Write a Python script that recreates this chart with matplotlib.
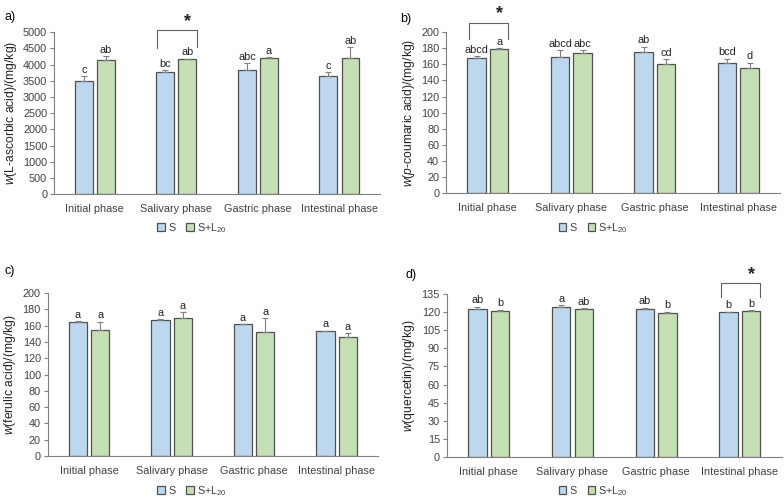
import numpy as np
import matplotlib
matplotlib.use("Agg")
import matplotlib.pyplot as plt

plt.rcParams['font.family'] = ['Liberation Sans', 'DejaVu Sans']
plt.rcParams['mathtext.fontset'] = 'custom'
plt.rcParams['mathtext.rm'] = 'Liberation Sans'
plt.rcParams['mathtext.it'] = 'Liberation Sans:italic'

phases = ['Initial phase', 'Salivary phase', 'Gastric phase', 'Intestinal phase']
series_names = ['S', 'S+L$_{20}$']

# a) L-ascorbic acid
asc_s = [3500, 3780, 3830, 3640]
asc_s_err = [150, 40, 220, 120]
asc_l = [4130, 4170, 4210, 4190]
asc_l_err = [120, 8, 12, 340]
asc_s_let = ['c', 'bc', 'abc', 'c']
asc_l_let = ['ab', 'ab', 'a', 'ab']

# b) p-coumaric acid
cou_s = [168, 169, 175.5, 162]
cou_s_err = [2, 9, 6.5, 5]
cou_l = [179, 174, 161, 155]
cou_l_err = [1, 3.5, 5.5, 7]
cou_s_let = ['abcd', 'abcd', 'ab', 'bcd']
cou_l_let = ['a', 'abc', 'cd', 'd']

# c) ferulic acid
fer_s = [165, 167, 161.5, 153]
fer_s_err = [0.8, 0.6, 0.6, 0.6]
fer_l = [154.5, 169, 152, 145.5]
fer_l_err = [10.5, 7.5, 17, 5]
fer_s_let = ['a', 'a', 'a', 'a']
fer_l_let = ['a', 'a', 'a', 'a']

# d) quercetin
que_s = [122.5, 124.5, 122.5, 120]
que_s_err = [2, 1, 1, 0.3]
que_l = [121, 122.5, 119.5, 121]
que_l_err = [1, 0.5, 1, 0.5]
que_s_let = ['ab', 'a', 'ab', 'b']
que_l_let = ['b', 'ab', 'b', 'b']

blue = '#BDD7EE'
green = '#C5E0B4'
edge = '#505050'

fig = plt.figure(figsize=(7.84, 5.03), dpi=100)

panels = [
    dict(rect=[0.069, 0.614, 0.416, 0.322], s=asc_s, se=asc_s_err, l=asc_l, le=asc_l_err,
         sl=asc_s_let, ll=asc_l_let, ymax=5000, step=500,
         ylabel='$\\mathit{w}$(L-ascorbic acid)/(mg/kg)', tag='a)', tagpos=(0.006, 0.978),
         leg_y=0.547, leg_x=0.245, br=(0.76, 1.25, 4500, 4540, 5060)),
    dict(rect=[0.569, 0.616, 0.426, 0.320], s=cou_s, se=cou_s_err, l=cou_l, le=cou_l_err,
         sl=cou_s_let, ll=cou_l_let, ymax=200, step=20,
         ylabel='$\\mathit{w}$($\\mathit{p}$-coumaric acid)/(mg/kg)', tag='b)', tagpos=(0.51, 0.975),
         leg_y=0.547, leg_x=0.757, br=(-0.225, 0.243, 191, 192, 212)),
    dict(rect=[0.061, 0.0934, 0.421, 0.324], s=fer_s, se=fer_s_err, l=fer_l, le=fer_l_err,
         sl=fer_s_let, ll=fer_l_let, ymax=200, step=20,
         ylabel='$\\mathit{w}$(ferulic acid)/(mg/kg)', tag='c)', tagpos=(0.006, 0.473),
         leg_y=0.024, leg_x=0.245, br=None),
    dict(rect=[0.570, 0.0915, 0.427, 0.324], s=que_s, se=que_s_err, l=que_l, le=que_l_err,
         sl=que_s_let, ll=que_l_let, ymax=135, step=15,
         ylabel='$\\mathit{w}$(quercetin)/(mg/kg)', tag='d)', tagpos=(0.517, 0.465),
         leg_y=0.024, leg_x=0.757, br=(2.77, 3.237, 132.5, 132.5, 144)),
]

x = np.arange(len(phases))
w = 0.22
off = 0.135

for p in panels:
    ax = fig.add_axes(p['rect'])
    bs = ax.bar(x - off, p['s'], w, color=blue, edgecolor=edge, linewidth=0.9, label=series_names[0])
    bl = ax.bar(x + off, p['l'], w, color=green, edgecolor=edge, linewidth=0.9, label=series_names[1])
    for xs, vals, errs in [(x - off, p['s'], p['se']), (x + off, p['l'], p['le'])]:
        ax.errorbar(xs, vals, yerr=[np.zeros(len(errs)), errs], fmt='none',
                    ecolor='#7f7f7f', elinewidth=0.8, capsize=2, capthick=0.8)
    for xs, vals, errs, lets in [(x - off, p['s'], p['se'], p['sl']), (x + off, p['l'], p['le'], p['ll'])]:
        for xi, v, e, t in zip(xs, vals, errs, lets):
            ax.annotate(t, (xi, v + e), xytext=(0, 1), textcoords='offset points',
                        ha='center', va='bottom', fontsize=7.8, color='#222222')
    ax.set_xlim(-0.5, 3.5)
    ax.set_ylim(0, p['ymax'])
    ax.set_yticks(np.arange(0, p['ymax'] + 1, p['step']))
    ax.set_xticks(x)
    ax.set_xticklabels(phases)
    ax.tick_params(axis='x', length=0, pad=7, labelsize=7.8, colors='#404040')
    ax.tick_params(axis='y', length=3, width=0.8, pad=2, labelsize=7.8, colors='#404040', color='#808080')
    for sp in ['top', 'right']:
        ax.spines[sp].set_visible(False)
    for sp in ['left', 'bottom']:
        ax.spines[sp].set_color('#808080')
        ax.spines[sp].set_linewidth(0.8)
    ax.set_ylabel(p['ylabel'], fontsize=8.7, color='#222222', labelpad=3)
    fig.text(p['tagpos'][0], p['tagpos'][1], p['tag'], fontsize=9, ha='left', va='top')
    if p['br'] is not None:
        x0, x1, y0, y1, yt = p['br']
        ax.plot([x0, x0, x1, x1], [y0, yt, yt, y1], color='#606060', lw=0.8, clip_on=False)
        ax.text(x0 + 0.78 * (x1 - x0), yt, '*', ha='center', va='bottom', fontsize=13,
                fontweight='bold', color='#222222', clip_on=False)
    fig.legend(handles=[bs, bl], labels=series_names, loc='center', bbox_to_anchor=(p['leg_x'], p['leg_y']),
               ncol=2, frameon=False, fontsize=7.8, handlelength=0.7, handleheight=0.7,
               handletextpad=0.3, columnspacing=1.0, labelcolor='#404040')

fig.savefig('out.png', dpi=100)
